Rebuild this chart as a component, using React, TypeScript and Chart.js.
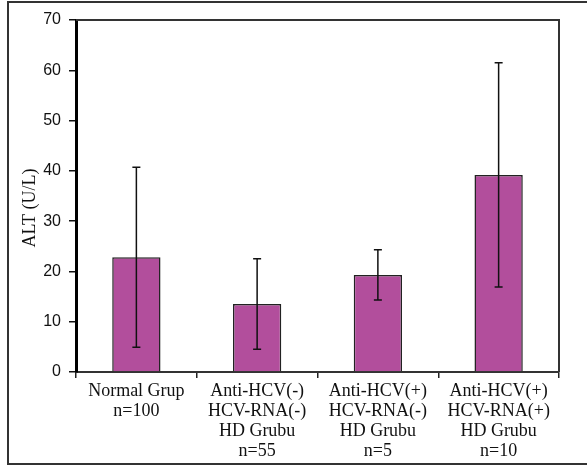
import React, { useEffect, useRef } from "react";
import { Chart, registerables } from "chart.js";

Chart.register(...registerables);

const categories: string[][] = [
  ["Normal Grup", "n=100"],
  ["Anti-HCV(-)", "HCV-RNA(-)", "HD Grubu", "n=55"],
  ["Anti-HCV(+)", "HCV-RNA(-)", "HD Grubu", "n=5"],
  ["Anti-HCV(+)", "HCV-RNA(+)", "HD Grubu", "n=10"],
];
const means: number[] = [22.8, 13.5, 19.3, 39.2];
const sds: number[] = [17.9, 9.0, 5.0, 22.3];
const yTicks: number[] = [0, 10, 20, 30, 40, 50, 60, 70];
const yTitle = "ALT (U/L)";

const BAR_COLOR = "#B24E9C";

const decorPlugin = {
  id: "decor",
  beforeDraw(chart: any) {
    const ctx = chart.ctx;
    ctx.save();
    ctx.fillStyle = "#fff";
    ctx.fillRect(0, 0, chart.width, chart.height);
    ctx.strokeStyle = "#333";
    ctx.lineWidth = 2;
    ctx.strokeRect(8, 2, 600, 462);
    ctx.restore();
  },
  afterDraw(chart: any) {
    const ctx = chart.ctx;
    const a = chart.chartArea;
    ctx.save();
    // frame top & right
    ctx.strokeStyle = "#333";
    ctx.lineWidth = 2;
    ctx.beginPath();
    ctx.moveTo(a.left, a.top);
    ctx.lineTo(a.right, a.top);
    ctx.lineTo(a.right, a.bottom);
    ctx.stroke();
    // error bars
    const xs = chart.scales.x;
    const ys = chart.scales.y;
    ctx.strokeStyle = "#111";
    ctx.lineWidth = 1.5;
    means.forEach((m, i) => {
      const x = xs.getPixelForValue(i);
      const yh = ys.getPixelForValue(m + sds[i]);
      const yl = ys.getPixelForValue(m - sds[i]);
      ctx.beginPath();
      ctx.moveTo(x, yh);
      ctx.lineTo(x, yl);
      ctx.moveTo(x - 4, yh);
      ctx.lineTo(x + 4, yh);
      ctx.moveTo(x - 4, yl);
      ctx.lineTo(x + 4, yl);
      ctx.stroke();
    });
    // y title
    ctx.fillStyle = "#111";
    ctx.font = "18px 'Liberation Serif'";
    ctx.textAlign = "center";
    ctx.textBaseline = "middle";
    ctx.translate(30, 208);
    ctx.rotate(-Math.PI / 2);
    ctx.fillText(yTitle, 0, 0);
    ctx.restore();
  },
};

export default function App() {
  const ref = useRef<HTMLCanvasElement>(null);
  useEffect(() => {
    if (!ref.current) return;
    const chart = new Chart(ref.current, {
      type: "bar",
      data: {
        labels: categories as any,
        datasets: [
          {
            data: means,
            backgroundColor: BAR_COLOR,
            borderColor: "#222",
            borderWidth: 1.5,
            barPercentage: 0.4,
            categoryPercentage: 1,
          },
        ],
      },
      options: {
        animation: false,
        responsive: false,
        devicePixelRatio: 1,
        layout: { padding: { top: 20, right: 28, left: 0, bottom: 0 } },
        plugins: { legend: { display: false }, tooltip: { enabled: false } },
        scales: {
          x: {
            offset: true,
            grid: {
              offset: true,
              drawOnChartArea: false,
              drawTicks: true,
              tickLength: 6,
              color: "#222",
              lineWidth: 1.5,
            },
            border: { display: true, color: "#333", width: 2 },
            ticks: {
              color: "#111",
              padding: 3,
              maxRotation: 0,
              autoSkip: false,
              font: { family: "'Liberation Serif'", size: 18, lineHeight: 20 / 18 },
            },
            afterFit(scale: any) {
              scale.height = 96;
            },
          },
          y: {
            min: 0,
            max: 70,
            afterBuildTicks(scale: any) {
              scale.ticks = yTicks.map((v) => ({ value: v }));
            },
            grid: {
              drawOnChartArea: false,
              drawTicks: true,
              tickLength: 7,
              color: "#111",
              lineWidth: 1.5,
            },
            border: { display: true, color: "#000", width: 3 },
            ticks: {
              color: "#111",
              padding: 8,
              font: { family: "'Liberation Sans'", size: 16 },
            },
            afterFit(scale: any) {
              scale.width = 76;
            },
          },
        },
      },
      plugins: [decorPlugin],
    });
    return () => chart.destroy();
  }, []);
  return (
    <div style={{ position: "absolute", left: 0, top: 0, width: 587, height: 468 }}>
      <canvas ref={ref} width={587} height={468} style={{ display: "block" }} />
    </div>
  );
}
